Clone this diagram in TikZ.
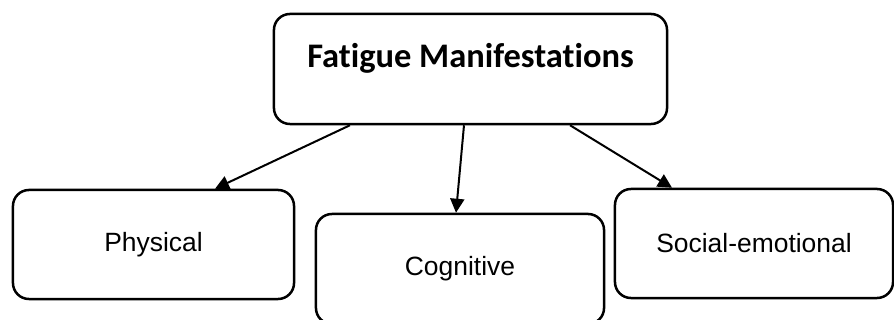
\documentclass[tikz,border=0pt]{standalone}
\usepackage{fontspec}
\setmainfont{Liberation Sans}
\newfontfamily\headfont[Ligatures=NoCommon]{Carlito}
\usepackage{tikz}
\usetikzlibrary{arrows.meta, positioning}

\begin{document}
\begin{tikzpicture}[x=0.025cm, y=-0.025cm, > = {Triangle[length=0.35cm, width=0.35cm]},
		box/.style={draw, line width=0.0625cm, rounded corners=0.4cm, minimum height=2.725cm, font=\fontsize{18.8}{22}\selectfont}]
			\useasboundingbox (0,0) rectangle (894,320);
			
			\node [box, minimum width=9.825cm, minimum height=2.75cm, text height=0.6cm, text depth=0.675cm,
				font=\headfont\bfseries\fontsize{24.5}{29}\selectfont] (fatigue) at (470.5,69) {Fatigue Manifestations};
			
			\node [box, minimum width=7.025cm] (physical) at (153.5,244.5) {Physical};
			\node [box, minimum width=7.2cm, minimum height=2.75cm] (cognitive) at (460,269) {Cognitive};
			\node [box, minimum width=6.95cm] (social) at (754,243.5) {Social-emotional};
			
			\draw [->, line width=0.05cm] ([xshift=-3.0125cm]fatigue.south) -- ([xshift=1.5375cm]physical.north);
			\draw [->, line width=0.05cm] ([xshift=-0.1625cm]fatigue.south) -- ([xshift=-0.1cm]cognitive.north);
			\draw [->, line width=0.05cm] ([xshift=2.4875cm]fatigue.south) -- ([xshift=-2.05cm]social.north);
		\end{tikzpicture}
\end{document}
